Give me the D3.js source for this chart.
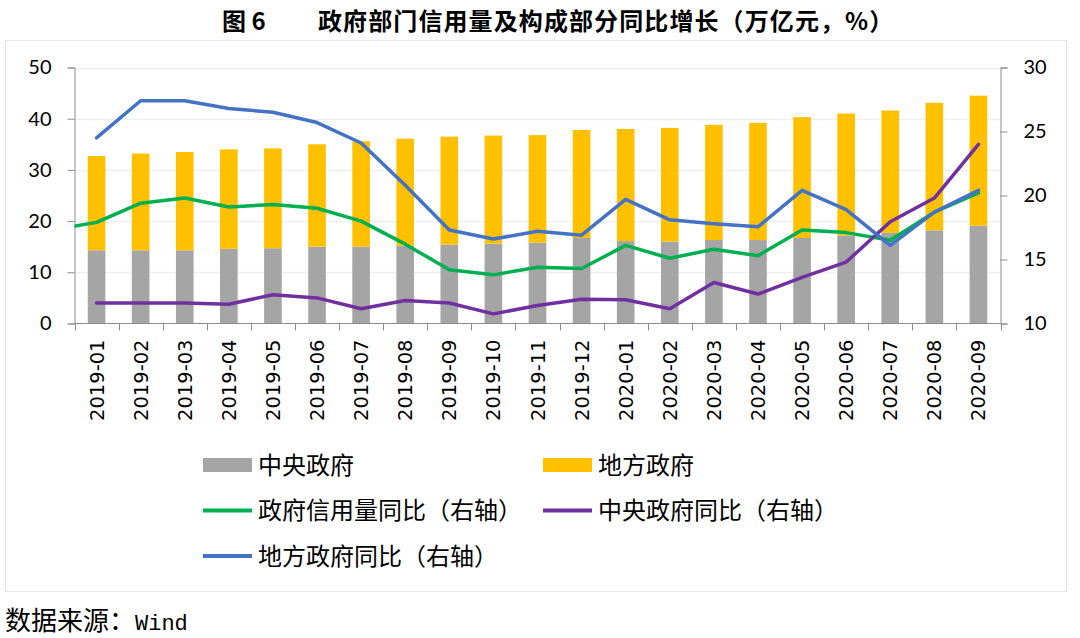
<!DOCTYPE html>
<html><head><meta charset="utf-8">
<script src="https://cdn.jsdelivr.net/npm/d3@7/dist/d3.min.js"></script>
<style>body{margin:0;background:#fff}svg{display:block}</style>
</head><body>
<svg id="c" width="1080" height="638"></svg>
<script>
const categories = ['2019-01','2019-02','2019-03','2019-04','2019-05','2019-06','2019-07','2019-08','2019-09','2019-10','2019-11','2019-12','2020-01','2020-02','2020-03','2020-04','2020-05','2020-06','2020-07','2020-08','2020-09'];
const centralGov = [14.3,14.3,14.3,14.6,14.7,15.0,15.0,15.2,15.4,15.6,15.8,16.7,16.1,16.0,16.3,16.3,16.7,17.2,17.7,18.2,19.1];
const localGov = [18.4,18.9,19.2,19.4,19.5,20.0,20.6,20.9,21.1,21.1,21.0,21.1,21.9,22.2,22.5,22.9,23.6,23.8,23.9,24.9,25.4];
const totalYoY = [17.9,19.4,19.8,19.1,19.3,19.0,18.0,16.2,14.2,13.8,14.4,14.3,16.1,15.1,15.8,15.3,17.3,17.1,16.5,18.7,20.2];
const totalYoYPrev = 17.3; // 2018-12, outside the plotted range
const centralYoY = [11.6,11.6,11.6,11.5,12.25,12.0,11.15,11.8,11.6,10.75,11.4,11.9,11.85,11.15,13.2,12.3,13.6,14.8,17.95,19.8,24.0];
const localYoY = [24.5,27.4,27.4,26.8,26.5,25.7,24.1,20.8,17.3,16.6,17.2,16.9,19.7,18.1,17.8,17.55,20.4,18.9,16.1,18.7,20.4];
const leftTicks = [0,10,20,30,40,50];
const rightTicks = [10,15,20,25,30];
const titleNo = '图 6';
const titleText = '政府部门信用量及构成部分同比增长（万亿元，%）';
const sourceLabel = '数据来源：';
const sourceName = 'Wind';
const legendItems = [
  {name:'中央政府', type:'rect', color:'#A5A5A5', col:0, row:0},
  {name:'地方政府', type:'rect', color:'#FFC000', col:1, row:0},
  {name:'政府信用量同比（右轴）', type:'line', color:'#00B050', col:0, row:1},
  {name:'中央政府同比（右轴）', type:'line', color:'#7030A0', col:1, row:1},
  {name:'地方政府同比（右轴）', type:'line', color:'#4472C4', col:0, row:2}
];

const svg = d3.select('#c');
const L = 74.5, R = 1000.5, T = 67.5, B = 323.5;
const cjk = '"Noto Sans CJK SC", sans-serif';

// frame
svg.append('rect').attr('x',5.5).attr('y',40.5).attr('width',1061).attr('height',551)
  .attr('fill','none').attr('stroke','#e4e4e4');

// title
svg.append('text').attr('x',222).attr('y',30).attr('font-family',cjk).attr('font-weight','bold')
  .attr('font-size',24).text(titleNo);
svg.append('text').attr('x',318).attr('y',30).attr('font-family',cjk).attr('font-weight','bold')
  .attr('font-size',24).attr('letter-spacing',1.1).text(titleText);

const x = d3.scaleBand().domain(categories).range([L, R]).paddingInner(0.6).paddingOuter(0.3);
const yL = d3.scaleLinear().domain([0,50]).range([B,T]);
const yR = d3.scaleLinear().domain([10,30]).range([B,T]);
const cx = c => x(c) + x.bandwidth()/2;

// gridlines
svg.append('g').selectAll('line').data(leftTicks.filter(d=>d>0)).join('line')
  .attr('x1',L).attr('x2',R).attr('y1',d=>Math.round(yL(d))+0.5).attr('y2',d=>Math.round(yL(d))+0.5)
  .attr('stroke','#efefef').attr('stroke-width',1.5);

// bars
const stackData = categories.map((c,i)=>({c, central:centralGov[i], local:localGov[i]}));
const series = d3.stack().keys(['central','local'])(stackData);
const barColors = {central:'#A5A5A5', local:'#FFC000'};
svg.append('g').selectAll('g').data(series).join('g').attr('fill',s=>barColors[s.key])
  .selectAll('rect').data(s=>s).join('rect')
  .attr('x',d=>x(d.data.c)).attr('width',x.bandwidth())
  .attr('y',d=>yL(d[1])).attr('height',d=>yL(d[0])-yL(d[1]));

// axes
const axisColor = '#8c8c8c';
const gL = svg.append('g').attr('transform',`translate(${L},0)`)
  .call(d3.axisLeft(yL).tickValues(leftTicks).tickSize(7).tickPadding(16));
const gR = svg.append('g').attr('transform',`translate(${R},0)`)
  .call(d3.axisRight(yR).tickValues(rightTicks).tickSize(7).tickPadding(16));
[gL,gR].forEach(g=>{
  g.select('.domain').attr('stroke',axisColor);
  g.selectAll('.tick line').attr('stroke',axisColor);
  g.selectAll('text').attr('font-family','Lato, "Open Sans", sans-serif').attr('font-size',20).attr('fill','#000');
});
const gX = svg.append('g').attr('transform',`translate(0,${B})`);
gX.append('line').attr('x1',L).attr('x2',R).attr('stroke',axisColor);
const bounds = categories.map(c=>x(c) - x.step()*0.3).concat([R]);
gX.selectAll('line.t').data(bounds).join('line').attr('class','t')
  .attr('x1',d=>Math.round(d)+0.5).attr('x2',d=>Math.round(d)+0.5).attr('y1',0).attr('y2',7).attr('stroke',axisColor);
gX.selectAll('text').data(categories).join('text')
  .attr('transform',d=>`translate(${cx(d)+7},16) rotate(-90)`)
  .attr('text-anchor','end').attr('font-family','"DejaVu Sans", Verdana, sans-serif')
  .attr('font-size',19.5).attr('fill','#000').text(d=>d);

// lines
svg.append('defs').append('clipPath').attr('id','plot').append('rect')
  .attr('x',L).attr('y',T-10).attr('width',R-L).attr('height',B-T+20);
const line = d3.line().x(d=>d[0]).y(d=>yR(d[1]));
const greenPts = [[cx(categories[0]) - x.step(), totalYoYPrev]].concat(categories.map((c,i)=>[cx(c), totalYoY[i]]));
const lineSeries = [
  {pts: greenPts, color:'#00B050'},
  {pts: categories.map((c,i)=>[cx(c), centralYoY[i]]), color:'#7030A0'},
  {pts: categories.map((c,i)=>[cx(c), localYoY[i]]), color:'#4472C4'}
];
svg.append('g').attr('clip-path','url(#plot)').selectAll('path').data(lineSeries).join('path')
  .attr('d',d=>line(d.pts)).attr('fill','none').attr('stroke',d=>d.color)
  .attr('stroke-width',3.5).attr('stroke-linejoin','round').attr('stroke-linecap','round');

// legend
const lg = svg.append('g');
const colX = [203, 543], rowY = [465, 510.5, 556];
legendItems.forEach(it=>{
  const gx = colX[it.col], gy = rowY[it.row];
  if (it.type==='rect') lg.append('rect').attr('x',gx).attr('y',gy-7).attr('width',49).attr('height',14).attr('fill',it.color);
  else lg.append('line').attr('x1',gx).attr('x2',gx+49).attr('y1',gy).attr('y2',gy).attr('stroke',it.color).attr('stroke-width',4);
  lg.append('text').attr('x',gx+55).attr('y',gy).attr('dy','0.36em').attr('font-family',cjk)
    .attr('font-size',24).attr('fill','#000').text(it.name);
});

// source
const st = svg.append('text').attr('x',5).attr('y',630).attr('font-family',cjk).attr('font-size',26).attr('fill','#000');
st.append('tspan').text(sourceLabel);
st.append('tspan').attr('font-family','"Liberation Mono", monospace').attr('font-size',22).text(sourceName);
</script>
</body></html>
